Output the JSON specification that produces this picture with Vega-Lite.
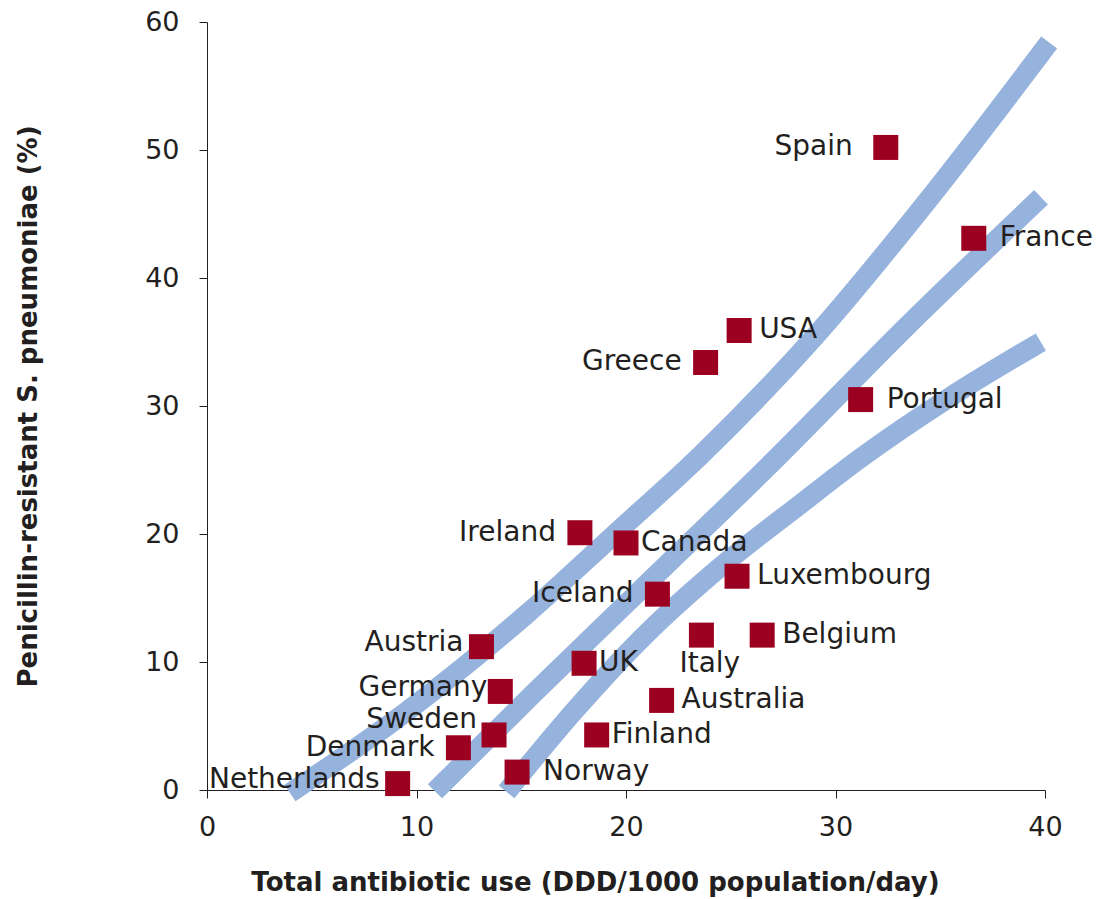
{
  "$schema": "https://vega.github.io/schema/vega-lite/v6.json",
  "width": 838,
  "height": 768,
  "autosize": {"type": "none"},
  "padding": {"left": 207, "top": 22, "right": 56, "bottom": 109},
  "background": "white",
  "config": {
    "view": {"stroke": null},
    "font": "DejaVu Sans",
    "text": {"font": "DejaVu Sans", "fontSize": 28, "color": "#231f20", "baseline": "middle"}
  },
  "datasets": {
    "countries": [
      {"country": "Spain", "use": 32.4, "resist": 50.2},
      {"country": "France", "use": 36.6, "resist": 43.1},
      {"country": "USA", "use": 25.4, "resist": 35.9},
      {"country": "Greece", "use": 23.8, "resist": 33.4},
      {"country": "Portugal", "use": 31.2, "resist": 30.5},
      {"country": "Ireland", "use": 17.8, "resist": 20.1},
      {"country": "Canada", "use": 20.0, "resist": 19.3},
      {"country": "Luxembourg", "use": 25.3, "resist": 16.7},
      {"country": "Iceland", "use": 21.5, "resist": 15.3},
      {"country": "Austria", "use": 13.1, "resist": 11.2},
      {"country": "Italy", "use": 23.6, "resist": 12.1},
      {"country": "Belgium", "use": 26.5, "resist": 12.1},
      {"country": "UK", "use": 18.0, "resist": 9.9},
      {"country": "Germany", "use": 14.0, "resist": 7.7},
      {"country": "Australia", "use": 21.7, "resist": 7.0},
      {"country": "Sweden", "use": 13.7, "resist": 4.3},
      {"country": "Finland", "use": 18.6, "resist": 4.3},
      {"country": "Denmark", "use": 12.0, "resist": 3.3},
      {"country": "Norway", "use": 14.8, "resist": 1.4},
      {"country": "Netherlands", "use": 9.1, "resist": 0.5}
    ],
    "curves": [
      {"curve": "upper", "use": 3.96, "resist": -0.23},
      {"curve": "upper", "use": 9.5, "resist": 6.1},
      {"curve": "upper", "use": 15.3, "resist": 13.8},
      {"curve": "upper", "use": 19.4, "resist": 19.9},
      {"curve": "upper", "use": 23.6, "resist": 26.2},
      {"curve": "upper", "use": 29.16, "resist": 35.7},
      {"curve": "upper", "use": 34.42, "resist": 46.1},
      {"curve": "upper", "use": 40.2, "resist": 58.4},
      {"curve": "middle", "use": 10.88, "resist": -0.1},
      {"curve": "middle", "use": 15.42, "resist": 7.27},
      {"curve": "middle", "use": 20.67, "resist": 15.6},
      {"curve": "middle", "use": 27.35, "resist": 26.2},
      {"curve": "middle", "use": 33.08, "resist": 35.7},
      {"curve": "middle", "use": 39.81, "resist": 46.3},
      {"curve": "lower", "use": 14.3, "resist": -0.15},
      {"curve": "lower", "use": 17.57, "resist": 6.25},
      {"curve": "lower", "use": 20.81, "resist": 11.95},
      {"curve": "lower", "use": 24.34, "resist": 17.2},
      {"curve": "lower", "use": 28.3, "resist": 22.3},
      {"curve": "lower", "use": 31.17, "resist": 25.9},
      {"curve": "lower", "use": 35.47, "resist": 30.7},
      {"curve": "lower", "use": 39.8, "resist": 35.0}
    ]
  },
  "encoding": {
    "x": {
      "field": "use", "type": "quantitative",
      "scale": {"domain": [0, 40], "nice": false, "zero": false},
      "axis": {
        "title": "Total antibiotic use (DDD/1000 population/day)",
        "values": [0, 10, 20, 30, 40],
        "grid": false, "labelFlush": false,
        "domainColor": "#231f20", "tickColor": "#231f20", "tickSize": 8,
        "labelFont": "DejaVu Sans", "labelFontSize": 27, "labelColor": "#231f20", "labelPadding": 16,
        "titleFont": "DejaVu Sans", "titleFontSize": 26, "titleFontWeight": "bold", "titleColor": "#231f20",
        "titleX": 388, "titleY": 92, "titleBaseline": "middle"
      }
    },
    "y": {
      "field": "resist", "type": "quantitative",
      "scale": {"domain": [0, 60], "nice": false, "zero": false},
      "axis": {
        "title": "Penicillin-resistant S. pneumoniae (%)",
        "values": [0, 10, 20, 30, 40, 50, 60],
        "grid": false, "labelFlush": false,
        "domainColor": "#231f20", "tickColor": "#231f20", "tickSize": 8,
        "labelFont": "DejaVu Sans", "labelFontSize": 27, "labelColor": "#231f20", "labelPadding": 20,
        "titleFont": "DejaVu Sans", "titleFontSize": 26, "titleFontWeight": "bold", "titleColor": "#231f20",
        "titleX": -179, "titleBaseline": "middle"
      }
    }
  },
  "layer": [
    {
      "data": {"name": "curves"},
      "mark": {"type": "line", "interpolate": "monotone", "strokeWidth": 20, "strokeCap": "butt", "color": "#95b3dd", "clip": false},
      "encoding": {"detail": {"field": "curve"}}
    },
    {
      "data": {"name": "countries"},
      "mark": {"type": "point", "shape": "square", "filled": true, "size": 625, "color": "#9b0020", "opacity": 1},
      "encoding": {}
    },
    {
      "data": {"name": "countries"},
      "transform": [{"filter": {"field": "country", "oneOf": ["Spain"]}}],
      "mark": {"type": "text", "align": "right", "dx": -33},
      "encoding": {"text": {"field": "country"}}
    },
    {
      "data": {"name": "countries"},
      "transform": [{"filter": {"field": "country", "oneOf": ["Greece", "Ireland", "Iceland", "Denmark"]}}],
      "mark": {"type": "text", "align": "right", "dx": -24},
      "encoding": {"text": {"field": "country"}}
    },
    {
      "data": {"name": "countries"},
      "transform": [{"filter": {"field": "country", "oneOf": ["Austria", "Netherlands"]}}],
      "mark": {"type": "text", "align": "right", "dx": -18, "dy": -4},
      "encoding": {"text": {"field": "country"}}
    },
    {
      "data": {"name": "countries"},
      "transform": [{"filter": {"field": "country", "oneOf": ["Germany"]}}],
      "mark": {"type": "text", "align": "right", "dx": -13, "dy": -3},
      "encoding": {"text": {"field": "country"}}
    },
    {
      "data": {"name": "countries"},
      "transform": [{"filter": {"field": "country", "oneOf": ["Sweden"]}}],
      "mark": {"type": "text", "align": "right", "dx": -17, "dy": -15},
      "encoding": {"text": {"field": "country"}}
    },
    {
      "data": {"name": "countries"},
      "transform": [{"filter": {"field": "country", "oneOf": ["France", "Portugal", "Norway"]}}],
      "mark": {"type": "text", "align": "left", "dx": 26},
      "encoding": {"text": {"field": "country"}}
    },
    {
      "data": {"name": "countries"},
      "transform": [{"filter": {"field": "country", "oneOf": ["USA", "Luxembourg", "Belgium", "Australia"]}}],
      "mark": {"type": "text", "align": "left", "dx": 20},
      "encoding": {"text": {"field": "country"}}
    },
    {
      "data": {"name": "countries"},
      "transform": [{"filter": {"field": "country", "oneOf": ["Canada", "UK", "Finland"]}}],
      "mark": {"type": "text", "align": "left", "dx": 15},
      "encoding": {"text": {"field": "country"}}
    },
    {
      "data": {"name": "countries"},
      "transform": [{"filter": {"field": "country", "oneOf": ["Italy"]}}],
      "mark": {"type": "text", "align": "left", "dx": -22, "dy": 29},
      "encoding": {"text": {"field": "country"}}
    }
  ]
}
